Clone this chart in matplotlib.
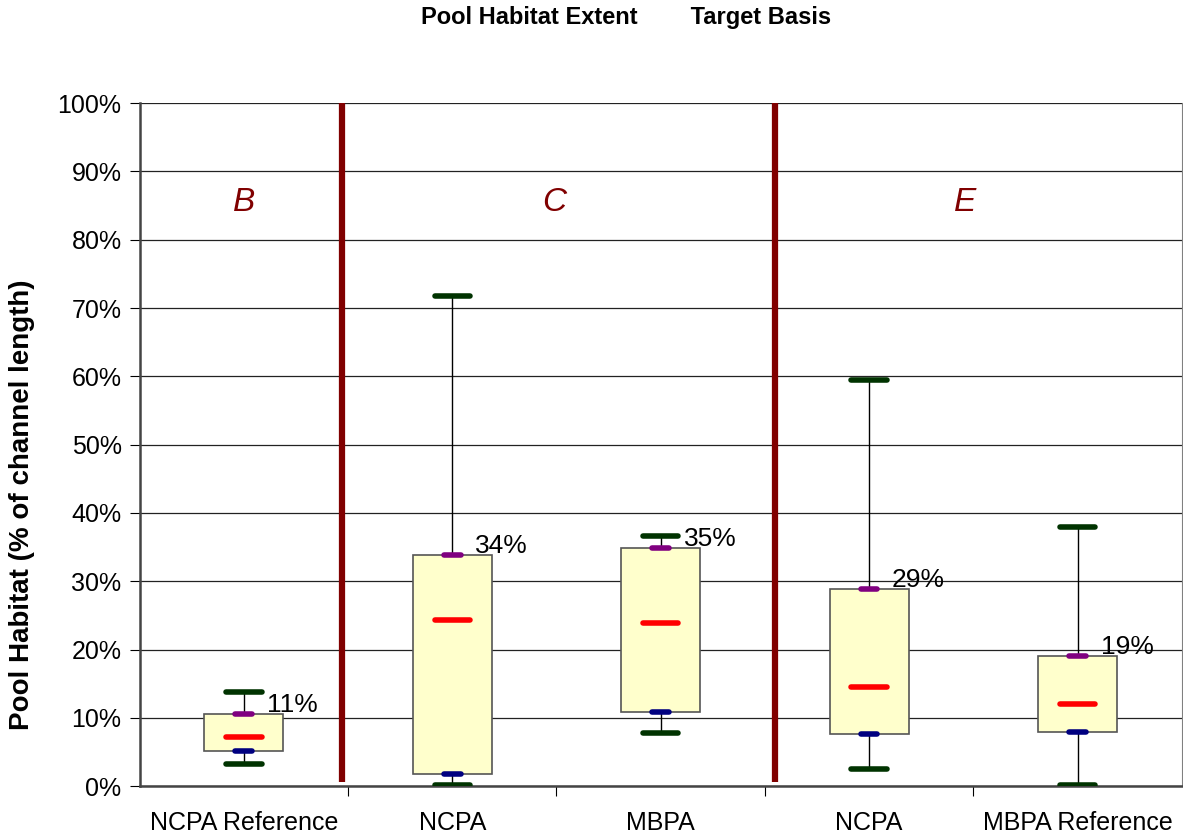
import matplotlib
matplotlib.use("Agg")
import matplotlib.pyplot as plt
from matplotlib.ticker import FuncFormatter

plt.rcParams['font.family'] = ['Liberation Sans', 'DejaVu Sans']

# data (percent of channel length)
categories = ["NCPA Reference", "NCPA", "MBPA", "NCPA", "MBPA Reference"]
mins = [3.2, 0.1, 7.8, 2.5, 0.1]
q1 = [5.2, 1.8, 10.9, 7.7, 8.0]
medians = [7.2, 24.3, 23.9, 14.5, 12.0]
q3 = [10.6, 33.8, 34.8, 28.8, 19.0]
maxs = [13.8, 71.7, 36.7, 59.5, 38.0]
q3_labels = ["11%", "34%", "35%", "29%", "19%"]

regions = ["B", "C", "E"]
region_x = [0.0, 1.49, 3.46]
separators = [0.47, 2.55]

fig = plt.figure(figsize=(11.83, 8.39), dpi=100)
ax = fig.add_axes([0.118, 0.063, 0.881, 0.814])

x = list(range(len(categories)))

# whiskers
ax.vlines(x, mins, maxs, color="black", lw=1.0, zorder=2)
# boxes
heights = [b - a for a, b in zip(q1, q3)]
ax.bar(x, heights, bottom=q1, width=0.38, color="#FFFFCC",
       edgecolor="#555555", linewidth=1.2, zorder=3)
# caps and markers
ax.hlines(maxs, [i - 0.085 for i in x], [i + 0.085 for i in x],
          color="#003300", lw=4, zorder=4, capstyle="round")
ax.hlines(mins, [i - 0.085 for i in x], [i + 0.085 for i in x],
          color="#003300", lw=4, zorder=4, capstyle="round")
ax.hlines(medians, [i - 0.085 for i in x], [i + 0.085 for i in x],
          color="#FF0000", lw=4, zorder=4, capstyle="round")
ax.hlines(q3, [i - 0.04 for i in x], [i + 0.04 for i in x],
          color="#800080", lw=4, zorder=4, capstyle="round")
ax.hlines(q1, [i - 0.04 for i in x], [i + 0.04 for i in x],
          color="#000080", lw=4, zorder=4, capstyle="round")

for i, (v, lab) in enumerate(zip(q3, q3_labels)):
    ax.text(i + 0.11, v + 0.3, lab, fontsize=19, ha="left", va="baseline",
            zorder=5)

# region separators and letters
ax.vlines(separators, 0.6, 100, color="#800000", lw=4.5, zorder=5)
for rx, r in zip(region_x, regions):
    ax.text(rx, 85.4, r, fontsize=24, style="italic", color="#800000",
            ha="center", va="center")

ax.set_xlim(-0.5, 4.5)
ax.set_ylim(0, 100)
ax.set_yticks(range(0, 101, 10))
ax.yaxis.set_major_formatter(FuncFormatter(lambda v, p: f"{int(v)}%"))
ax.tick_params(axis="y", labelsize=18, direction="out", length=7, pad=6)
ax.set_xticks([i + 0.5 for i in range(4)])
ax.set_xticklabels([])
ax.set_xticks(x, minor=True)
ax.set_xticklabels(categories, minor=True, fontsize=18)
ax.tick_params(axis="x", which="major", direction="out", length=7)
ax.tick_params(axis="x", which="minor", length=0, pad=18)

ax.grid(axis="y", color="#222222", lw=0.9)
ax.set_axisbelow(True)
ax.spines["top"].set_visible(False)
ax.spines["right"].set_color("#808080")
ax.spines["left"].set_linewidth(1.8)
ax.spines["left"].set_color("#444444")
ax.spines["bottom"].set_linewidth(1.8)
ax.spines["bottom"].set_color("#444444")

fig.text(0.0186, 0.398, "Pool Habitat (% of channel length)", fontsize=20,
         fontweight="bold", rotation=90, ha="center", va="center")
fig.text(0.529, 0.979, "Pool Habitat Extent        Target Basis", fontsize=17,
         fontweight="bold", ha="center", va="center")

fig.savefig("out.png", dpi=100)
